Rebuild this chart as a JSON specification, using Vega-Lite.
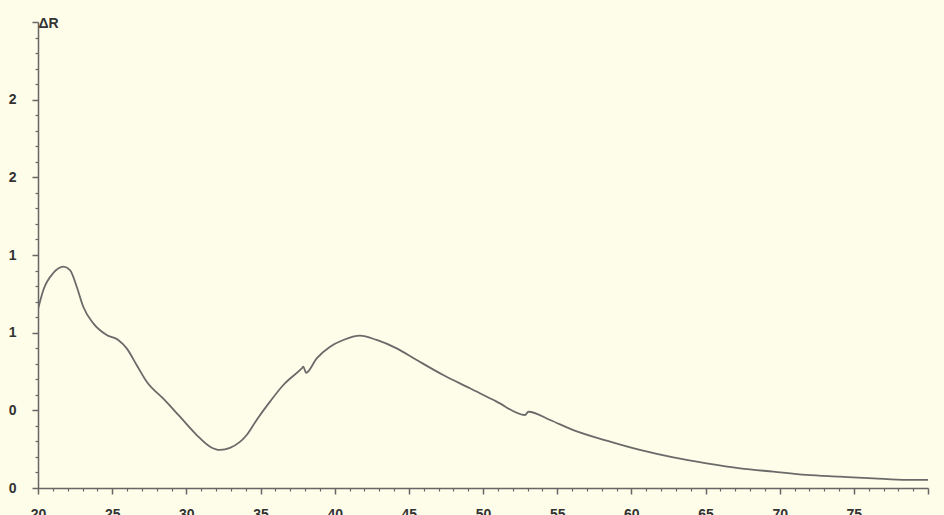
{
  "$schema": "https://vega.github.io/schema/vega-lite/v6.json",
  "autosize": "none",
  "width": 890,
  "height": 466,
  "padding": {"left": 38, "top": 22, "right": 16, "bottom": 27},
  "background": "#FEFDE9",
  "config": {"view": {"stroke": null}, "font": "Liberation Sans"},
  "data": {"values": [
    {"x": 20.0, "y": 1.15},
    {"x": 20.36, "y": 1.275},
    {"x": 21.03, "y": 1.384},
    {"x": 21.71, "y": 1.425},
    {"x": 22.16, "y": 1.403},
    {"x": 22.61, "y": 1.296},
    {"x": 23.05, "y": 1.167},
    {"x": 23.73, "y": 1.06},
    {"x": 24.63, "y": 0.985},
    {"x": 25.41, "y": 0.953},
    {"x": 25.98, "y": 0.899},
    {"x": 26.65, "y": 0.792},
    {"x": 27.33, "y": 0.684},
    {"x": 28.45, "y": 0.575},
    {"x": 29.57, "y": 0.459},
    {"x": 30.7, "y": 0.341},
    {"x": 31.6, "y": 0.266},
    {"x": 32.27, "y": 0.245},
    {"x": 32.94, "y": 0.258},
    {"x": 34.07, "y": 0.341},
    {"x": 34.74, "y": 0.438},
    {"x": 35.64, "y": 0.556},
    {"x": 36.54, "y": 0.663},
    {"x": 37.78, "y": 0.77},
    {"x": 37.89, "y": 0.781},
    {"x": 38.07, "y": 0.742},
    {"x": 38.79, "y": 0.835},
    {"x": 39.69, "y": 0.91},
    {"x": 40.58, "y": 0.953},
    {"x": 41.71, "y": 0.981},
    {"x": 42.83, "y": 0.953},
    {"x": 44.18, "y": 0.899},
    {"x": 45.53, "y": 0.824},
    {"x": 47.32, "y": 0.727},
    {"x": 49.12, "y": 0.642},
    {"x": 50.92, "y": 0.556},
    {"x": 52.83, "y": 0.47},
    {"x": 53.06, "y": 0.491},
    {"x": 54.52, "y": 0.438},
    {"x": 56.09, "y": 0.373},
    {"x": 58.34, "y": 0.305},
    {"x": 60.58, "y": 0.245},
    {"x": 62.83, "y": 0.197},
    {"x": 65.08, "y": 0.159},
    {"x": 67.33, "y": 0.127},
    {"x": 69.57, "y": 0.105},
    {"x": 71.82, "y": 0.084},
    {"x": 74.07, "y": 0.073},
    {"x": 76.31, "y": 0.062},
    {"x": 78.56, "y": 0.052},
    {"x": 80.0, "y": 0.052}
  ]},
  "mark": {"type": "line", "color": "#6a6a6a", "strokeWidth": 1.8, "interpolate": "monotone", "clip": true},
  "encoding": {
    "x": {
      "field": "x", "type": "quantitative",
      "scale": {"domain": [20, 80], "nice": false, "zero": false},
      "axis": {
        "title": null,
        "grid": false,
        "values": [20,21,22,23,24,25,26,27,28,29,30,31,32,33,34,35,36,37,38,39,40,41,42,43,44,45,46,47,48,49,50,51,52,53,54,55,56,57,58,59,60,61,62,63,64,65,66,67,68,69,70,71,72,73,74,75,76,77,78,79,80],
        "labelExpr": "datum.value % 5 === 0 && datum.value < 80 ? datum.label : ''",
        "labelOverlap": false,
        "labelFlush": false,
        "domainColor": "#666666",
        "domainWidth": 1.5,
        "tickColor": "#666666",
        "tickWidth": {"condition": {"test": "datum.value % 5 === 0", "value": 1.5}, "value": 1.2},
        "tickSize": {"condition": {"test": "datum.value % 5 === 0", "value": 6}, "value": 3},
        "labelPadding": 13,
        "labelFontSize": 14,
        "labelFontWeight": "bold",
        "labelColor": "#333333"
      }
    },
    "y": {
      "field": "y", "type": "quantitative",
      "scale": {"domain": [0, 3], "nice": false},
      "axis": {
        "title": "ΔR",
        "titleAngle": 0,
        "titleX": 0,
        "titleY": 5,
        "titleAlign": "left",
        "titleBaseline": "alphabetic",
        "titleFontSize": 14,
        "titleFontWeight": "bold",
        "titleColor": "#333333",
        "grid": false,
        "values": [0,0.1,0.2,0.3,0.4,0.5,0.6,0.7,0.8,0.9,1,1.1,1.2,1.3,1.4,1.5,1.6,1.7,1.8,1.9,2,2.1,2.2,2.3,2.4,2.5,2.6,2.7,2.8,2.9,3],
        "labelExpr": "abs(datum.value*2 - round(datum.value*2)) < 0.001 && datum.value < 2.9 ? toString(floor(datum.value + 0.001)) : ''",
        "labelOverlap": false,
        "labelFlush": false,
        "domainColor": "#666666",
        "domainWidth": 1.5,
        "tickColor": "#666666",
        "tickWidth": {"condition": {"test": "abs(datum.value*2 - round(datum.value*2)) < 0.001", "value": 1.5}, "value": 1.2},
        "tickSize": {"condition": {"test": "abs(datum.value*2 - round(datum.value*2)) < 0.001", "value": 6}, "value": 3},
        "labelPadding": 16,
        "labelFontSize": 14,
        "labelFontWeight": "bold",
        "labelColor": "#333333"
      }
    }
  }
}
